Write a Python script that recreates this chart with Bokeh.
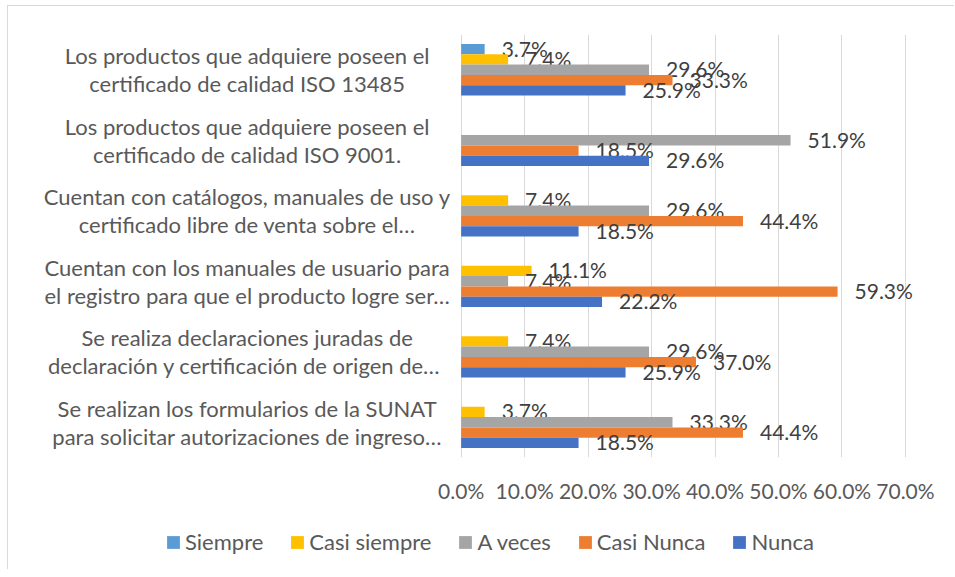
from bokeh.plotting import figure
from bokeh.layouts import column
from bokeh.models import (FactorRange, Range1d, FixedTicker, CustomJSTickFormatter,
                          Legend, LegendItem, ColumnDataSource)
from bokeh.transform import dodge
from bokeh.core.properties import value
from bokeh.embed import file_html
from bokeh.resources import INLINE

# ---------------- data ----------------
categories = [
    "Los productos que adquiere poseen el\ncertificado de calidad ISO 13485",
    "Los productos que adquiere poseen el\ncertificado de calidad ISO 9001.",
    "Cuentan con catálogos, manuales de uso y\ncertificado libre de venta sobre el…",
    "Cuentan con los manuales de usuario para\nel registro para que el producto logre ser…",
    "Se realiza declaraciones juradas de\ndeclaración y certificación  de origen de…",
    "Se realizan los formularios de la SUNAT\npara solicitar autorizaciones de ingreso…",
]
series_names = ["Siempre", "Casi siempre", "A veces", "Casi Nunca", "Nunca"]
siempre = [3.7, None, None, None, None, None]
casi_siempre = [7.4, None, 7.4, 11.1, 7.4, 3.7]
a_veces = [29.6, 51.9, 29.6, 7.4, 29.6, 33.3]
casi_nunca = [33.3, 18.5, 44.4, 59.3, 37.0, 44.4]
nunca = [25.9, 29.6, 18.5, 22.2, 25.9, 18.5]
x_ticks = [0, 10, 20, 30, 40, 50, 60, 70]

series_values = [siempre, casi_siempre, a_veces, casi_nunca, nunca]
colors = ["#5B9BD5", "#FFC000", "#A5A5A5", "#ED7D31", "#4472C4"]

FONT = "Lato"
BAR_H = 0.146

p = figure(
    width=946, height=511,
    y_range=FactorRange(*reversed(categories)),
    x_range=Range1d(-71, 73),
    output_backend="svg", toolbar_location=None,
    min_border_left=2, min_border_right=30,
    min_border_top=28, min_border_bottom=60,
)
p.outline_line_color = None
p.background_fill_color = "white"
p.border_fill_color = "white"

# grid (vertical lines at the percentage ticks only)
p.ygrid.grid_line_color = None
p.xgrid.ticker = FixedTicker(ticks=x_ticks)
p.xgrid.grid_line_color = "#D9D9D9"
p.xgrid.grid_line_width = 1

for i, (name, vals, col) in enumerate(zip(series_names, series_values, colors)):
    ys = [c for c, v in zip(categories, vals) if v is not None]
    xs = [v for v in vals if v is not None]
    labels = ["%.1f%%" % v for v in xs]
    src = ColumnDataSource(dict(y=ys, x=xs, lab=labels))
    off = (2 - i) * BAR_H
    p.hbar(y=dodge("y", off, range=p.y_range), right="x", left=0,
           height=BAR_H, source=src, fill_color=col, line_color=None)
    p.text(x="x", y=dodge("y", off, range=p.y_range), text="lab", source=src,
           x_offset=17, y_offset=-1, text_align="left", text_baseline="middle",
           text_font=value(FONT), text_font_size="21px", text_color="#404040")

# category labels: lines centred
cat_src = ColumnDataSource(dict(cat=categories, x0=[0] * len(categories)))
p.text(x="x0", y="cat", text="cat", source=cat_src, x_offset=-214,
       anchor=value("center"), text_align="center", text_baseline="middle",
       text_line_height=1.05,
       text_font=value(FONT), text_font_size="22px", text_color="#595959")

# x axis
p.xaxis.ticker = FixedTicker(ticks=x_ticks)
p.xaxis.formatter = CustomJSTickFormatter(code="return tick.toFixed(1) + '%';")
p.xaxis.axis_line_color = None
p.xaxis.major_tick_line_color = None
p.xaxis.minor_tick_line_color = None
p.xaxis.major_label_standoff = 14
p.xaxis.major_label_text_font = FONT
p.xaxis.major_label_text_font_size = "21px"
p.xaxis.major_label_text_color = "#595959"
p.yaxis.visible = False

# ---------------- legend (own strip under the chart) ----------------
lf = figure(width=946, height=52, x_range=Range1d(0, 1), y_range=Range1d(0, 1),
            output_backend="svg", toolbar_location=None,
            min_border_left=0, min_border_right=0, min_border_top=0, min_border_bottom=0)
lf.axis.visible = False
lf.grid.visible = False
lf.outline_line_color = None
items = []
for name, col in zip(series_names, colors):
    # zero-length placeholder bar, only used to give the legend its swatch
    r = lf.hbar(y=[0], right=[0], left=0, height=0, fill_color=col, line_color=None)
    items.append(LegendItem(label=name, renderers=[r]))
legend = Legend(
    items=items, orientation="horizontal", location=(155, 14),
    glyph_width=16, glyph_height=16, label_standoff=4, spacing=26,
    padding=0, margin=0, border_line_color=None, background_fill_alpha=0,
    label_text_font=FONT, label_text_font_size="22px", label_text_color="#595959",
)
lf.add_layout(legend, "center")

layout = column(p, lf, spacing=0)
layout.margin = (5, 0, 0, 7)
layout.styles = {"border-left": "1px solid #D9D9D9", "border-top": "1px solid #D9D9D9"}
open("out.html", "w").write(file_html(layout, INLINE))
